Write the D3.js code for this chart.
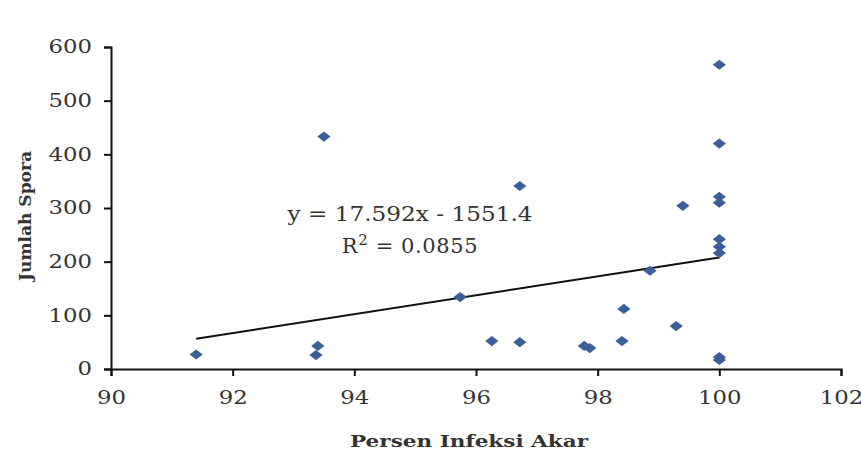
<!DOCTYPE html>
<html>
<head>
<meta charset="utf-8">
<script src="https://cdn.jsdelivr.net/npm/d3@7"></script>
<style>
  body { margin: 0; background: #fff; }
  text { font-family: "DejaVu Serif", "Liberation Serif", serif; fill: #333; }
</style>
</head>
<body>
<div id="chart"></div>
<script>
// Persen Infeksi Akar (x) vs Jumlah Spora (y)
const infeksi = [91.4, 93.4, 93.37, 93.5, 95.74, 96.26, 96.72, 96.72, 97.78, 97.87,
  98.4, 98.43, 98.86, 99.29, 99.4, 100, 100, 100, 100, 100, 100, 100, 100, 100];
const spora = [27, 43, 26, 433, 134, 52, 341, 50, 43, 39,
  52, 112, 183, 80, 304, 567, 420, 321, 310, 242, 228, 216, 22, 17];
const xTicks = [90, 92, 94, 96, 98, 100, 102];
const yTicks = [0, 100, 200, 300, 400, 500, 600];
const slope = 17.592, intercept = -1551.4;
const eqLabel = 'y = 17.592x - 1551.4';

const width = 861, height = 450;
const margin = {top: 47, right: 20, bottom: 81, left: 111};

const svg = d3.select('#chart').append('svg')
  .attr('width', width)
  .attr('height', height);

const x = d3.scaleLinear().domain([90, 102]).range([margin.left, 841]);
const y = d3.scaleLinear().domain([0, 600]).range([height - margin.bottom, margin.top]);

// axes
const xAxis = svg.append('g')
  .attr('transform', `translate(0,${y(0)})`)
  .call(d3.axisBottom(x).tickValues(xTicks).tickSize(7).tickPadding(15).tickFormat(d3.format('d')));
const yAxis = svg.append('g')
  .attr('transform', `translate(${x(90)},0)`)
  .call(d3.axisLeft(y).tickValues(yTicks).tickSize(7).tickPadding(12).tickFormat(d3.format('d')));

[xAxis, yAxis].forEach(g => {
  g.select('.domain').attr('stroke', '#111').attr('stroke-width', 2);
  g.selectAll('.tick line').attr('stroke', '#111').attr('stroke-width', 2);
  g.selectAll('.tick text')
    .style('font-size', '18px')
    .attr('fill', '#555')
    .attr('textLength', d => String(d).length * 14.5)
    .attr('lengthAdjust', 'spacingAndGlyphs');
});

// trend line
const x0 = d3.min(infeksi), x1 = d3.max(infeksi);
svg.append('line')
  .attr('x1', x(x0)).attr('y1', y(slope * x0 + intercept))
  .attr('x2', x(x1)).attr('y2', y(slope * x1 + intercept))
  .attr('stroke', '#111')
  .attr('stroke-width', 2);

// points
const diamond = d3.symbol().type(d3.symbolDiamond2).size(85);
svg.append('g').selectAll('path')
  .data(infeksi.map((d, i) => [d, spora[i]]))
  .enter().append('path')
    .attr('d', diamond)
    .attr('transform', d => `translate(${x(d[0])},${y(d[1])}) scale(1.15,0.88)`)
    .attr('fill', '#3b5f99');

// equation labels
svg.append('text')
  .attr('x', 410).attr('y', 221)
  .attr('text-anchor', 'middle')
  .style('font-size', '20px')
  .attr('fill', '#444')
  .attr('textLength', 245)
  .attr('lengthAdjust', 'spacingAndGlyphs')
  .text(eqLabel);
const r2 = svg.append('text')
  .attr('x', 410).attr('y', 253)
  .attr('text-anchor', 'middle')
  .style('font-size', '21px')
  .style('letter-spacing', '0.6px')
  .attr('fill', '#444');
r2.append('tspan').text('R');
r2.append('tspan').attr('dy', -8).style('font-size', '15px').text('2');
r2.append('tspan').attr('dy', 8).text(' = 0.0855');

// axis titles
svg.append('text')
  .attr('x', 469).attr('y', 447)
  .attr('text-anchor', 'middle')
  .style('font-size', '17px')
  .style('font-weight', 'bold')
  .attr('fill', '#222')
  .attr('textLength', 238)
  .attr('lengthAdjust', 'spacingAndGlyphs')
  .text('Persen Infeksi Akar');
svg.append('text')
  .attr('transform', `translate(31,216) rotate(-90)`)
  .attr('text-anchor', 'middle')
  .style('font-size', '17px')
  .style('font-weight', 'bold')
  .attr('fill', '#222')
  .attr('textLength', 130)
  .attr('lengthAdjust', 'spacingAndGlyphs')
  .text('Jumlah Spora');
</script>
</body>
</html>
